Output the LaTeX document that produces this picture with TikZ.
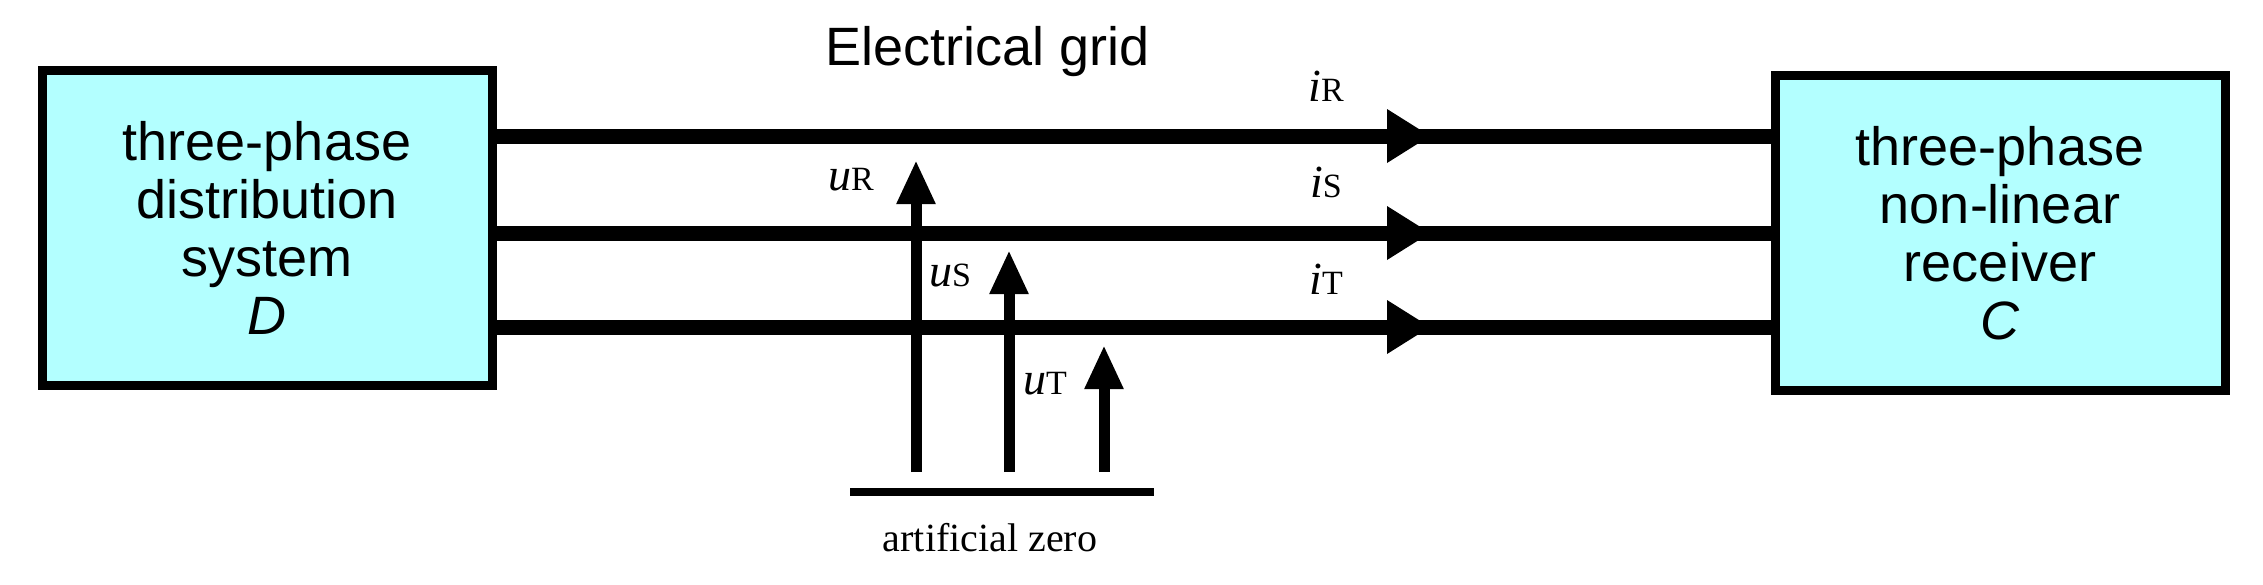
\documentclass[tikz,border=0pt]{standalone}
\usepackage{fontspec}
\setmainfont{Liberation Sans}
\newfontfamily\serf{Liberation Serif}
\usetikzlibrary{arrows.meta}
\definecolor{boxc}{HTML}{B3FFFF}
\begin{document}
\begin{tikzpicture}[x=1pt,y=-1pt,
  box/.style={draw=black,line width=9pt,fill=boxc,minimum width=450pt,minimum height=315pt,align=center,font=\fontsize{54}{58}\selectfont,inner sep=0pt},
  wire/.style={line width=15pt},
  vol/.style={line width=11pt,-{Triangle[width=36pt,length=44pt]}},
  lab/.style={font=\serf\itshape\fontsize{46}{46}\selectfont,inner sep=0pt},
  sub/.style={},
  tri/.style={fill=black}]
\useasboundingbox (0,0) rectangle (2263,584);
\node[box] (D) at (267,228) {three-phase\\distribution\\system\\\textit{D}};
\node[box] (C) at (2000,233) {three-phase\\non-linear\\receiver\\\textit{C}};
\node[font=\fontsize{54}{58}\selectfont] (title) at (988,52) {Electrical grid};
\foreach \n/\y in {R/136,S/233,T/327}{
  \coordinate (l\n) at (D.east |- 0,\y);
  \coordinate (r\n) at (C.west |- 0,\y);
  \draw[wire] (l\n) -- (r\n);
  \coordinate (a\n) at (1387,\y);
  \fill[tri] (a\n) ++(0,-27) -- ++(43,27) -- ++(-43,27) -- cycle;
}
\node[lab] (iR) at (1326,86) {i\textup{\fontsize{34}{34}\selectfont R}};
\node[lab] (iS) at (1326,182) {i\textup{\fontsize{34}{34}\selectfont S}};
\node[lab] (iT) at (1326,279) {i\textup{\fontsize{34}{34}\selectfont T}};
\coordinate (g1) at (850,492);
\coordinate (g2) at (1154,492);
\draw[line width=8pt] (g1) -- (g2);
\coordinate (bR) at (916,472); \coordinate (tR) at (916,160);
\coordinate (bS) at (1009,472); \coordinate (tS) at (1009,250);
\coordinate (bT) at (1104,472); \coordinate (tT) at (1104,345);
\draw[vol] (bR) -- (tR);
\draw[vol] (bS) -- (tS);
\draw[vol] (bT) -- (tT);
\node[lab] (uR) at (851,180) {u\textup{\fontsize{34}{34}\selectfont R}};
\node[lab] (uS) at (950,276) {u\textup{\fontsize{34}{34}\selectfont S}};
\node[lab] (uT) at (1045,384) {u\textup{\fontsize{34}{34}\selectfont T}};
\node[font=\serf\fontsize{40}{44}\selectfont] (az) at (990,538) {artificial zero};
\end{tikzpicture}
\end{document}
